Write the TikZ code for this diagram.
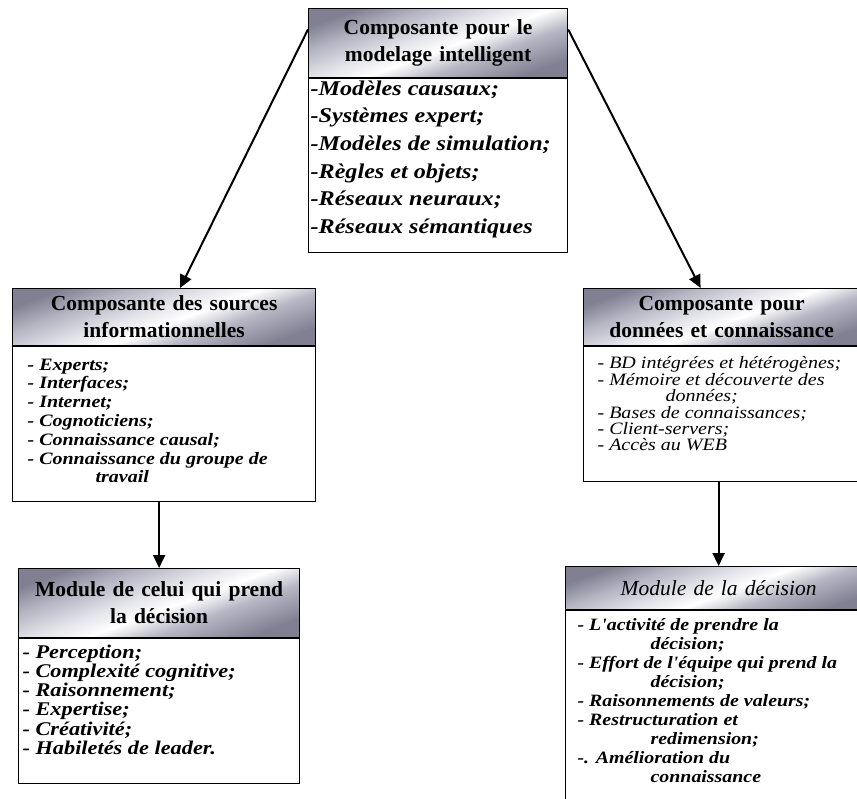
\documentclass[tikz,border=0pt]{standalone}
\usepackage{fontspec}
\setmainfont{Liberation Serif}
\newfontfamily\listfont[FakeStretch=1.15]{Liberation Serif}
\usetikzlibrary{arrows.meta}
\definecolor{metalD}{RGB}{128,128,146}
\definecolor{metalM}{RGB}{182,182,196}
\definecolor{metalL}{RGB}{226,226,233}
\pgfdeclarehorizontalshading{metal}{100bp}{color(0bp)=(metalD); color(25bp)=(metalD); color(38bp)=(metalM); color(47bp)=(white); color(55bp)=(metalL); color(65bp)=(metalM); color(75bp)=(metalD); color(100bp)=(metalD)}

\begin{document}
\begin{tikzpicture}[x=1pt,y=-1pt,
    head/.style={draw=black, line width=1.2pt, shading=metal, shading angle=110, anchor=north west,
      inner sep=0pt, align=center, font=\bfseries\fontsize{21.5}{27}\selectfont},
    body/.style={draw=black, line width=1.2pt, fill=white, anchor=north west, inner ysep=0pt},
    arrow/.style={-{Triangle[length=13pt,width=12pt]}, line width=2pt}]
    \useasboundingbox (0,0) rectangle (857,799);
    \clip (0,0) rectangle (857,799);
    % top component
    \node[head, minimum width=259pt, minimum height=69pt, text width=259pt] (modhead) at (308,8) {Composante pour le\\modelage intelligent};
    \node[body, inner xsep=2pt, font=\listfont\bfseries\itshape\fontsize{21}{27.6}\selectfont] (modbody) at (modhead.south west)
      {\parbox[t][174pt][t]{255pt}{\vspace*{2pt}-Modèles causaux;\\-Systèmes expert;\\-Modèles de simulation;\\-Règles et objets;\\-Réseaux neuraux;\\-Réseaux sémantiques}};
    % left column
    \node[head, minimum width=303pt, minimum height=57pt, text width=303pt] (srchead) at (12,288) {Composante des sources\\informationnelles};
    \node[body, inner xsep=15pt, font=\listfont\bfseries\itshape\fontsize{17.4}{18.8}\selectfont] (srcbody) at (srchead.south west)
      {\parbox[t][155pt][t]{273pt}{\vspace*{12pt}- Experts;\\- Interfaces;\\- Internet;\\- Cognoticiens;\\- Connaissance causal;\\- Connaissance du groupe de\\\hspace*{68pt}travail}};
    \node[head, minimum width=281pt, minimum height=69pt, text width=281pt] (declhead) at (18,568) {Module de celui qui prend\\la décision};
    \node[body, inner xsep=4pt, font=\listfont\bfseries\itshape\fontsize{19.4}{19.2}\selectfont] (declbody) at (declhead.south west)
      {\parbox[t][145pt][t]{273pt}{\vspace*{6pt}- Perception;\\- Complexité cognitive;\\- Raisonnement;\\- Expertise;\\- Créativité;\\- Habiletés de leader.}};
    % right column
    \node[head, minimum width=276pt, minimum height=57pt, text width=276pt] (datahead) at (583,288) {Composante pour\\données et connaissance};
    \node[body, inner xsep=14pt, font=\listfont\itshape\fontsize{17.4}{16.4}\selectfont] (databody) at (datahead.south west)
      {\parbox[t][135pt][t]{262pt}{\vspace*{10pt}- BD intégrées et hétérogènes;\\- Mémoire et découverte des\\\hspace*{68pt}données;\\- Bases de connaissances;\\- Client-servers;\\- Accès au WEB}};
    \node[head, minimum width=306pt, minimum height=43pt, text width=306pt, font=\itshape\fontsize{21.5}{27}\selectfont] (dechead) at (565,566) {Module de la décision};
    \node[body, inner xsep=12pt, font=\listfont\bfseries\itshape\fontsize{17.3}{18.9}\selectfont] (decbody) at (dechead.south west)
      {\parbox[t][200pt][t]{282pt}{\vspace*{8pt}- L'activité de prendre la\\\hspace*{73pt}décision;\\- Effort de l'équipe qui prend la\\\hspace*{73pt}décision;\\- Raisonnements de valeurs;\\- Restructuration et\\\hspace*{73pt}redimension;\\-. Amélioration du\\\hspace*{73pt}connaissance}};
    % connectors
    \draw[arrow] (modhead.174) -- ([xshift=16pt]srchead.north);
    \draw[arrow] (modhead.6) -- ([xshift=-21pt]datahead.north);
    \draw[arrow] (declhead.north |- srcbody.south) -- (declhead.north);
    \draw[arrow] (dechead.north |- databody.south) -- (dechead.north);
\end{tikzpicture}
\end{document}
